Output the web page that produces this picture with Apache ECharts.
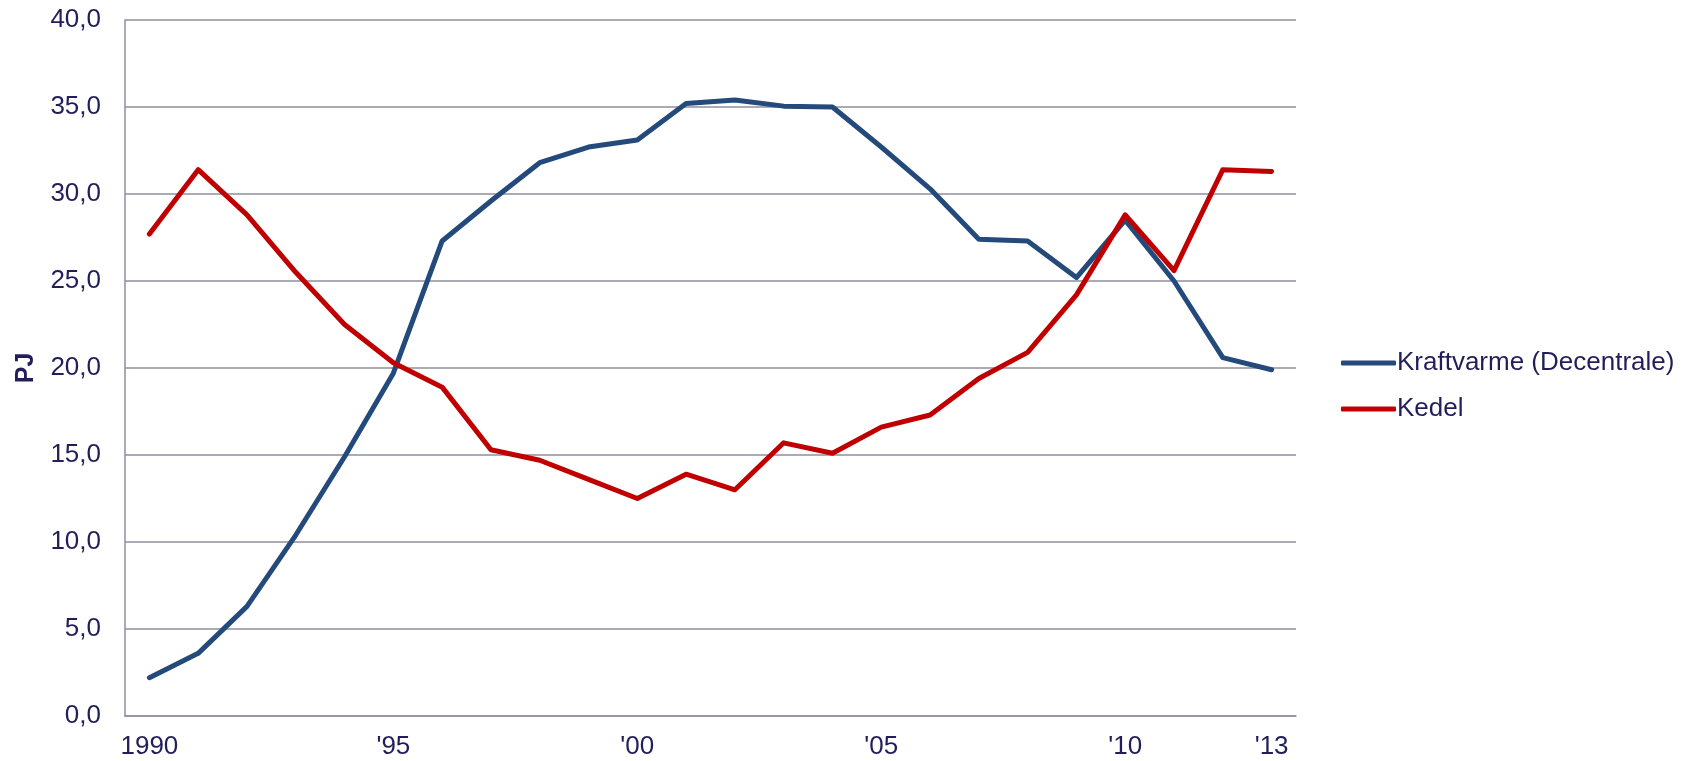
<!DOCTYPE html>
<html>
<head>
<meta charset="utf-8">
<script src="https://cdn.jsdelivr.net/npm/echarts@6/dist/echarts.min.js"></script>
<style>
html,body{margin:0;padding:0;background:#fff;}
#chart{width:1692px;height:761px;}
</style>
</head>
<body>
<div id="chart"></div>
<script>
const years = ['1990','1991','1992','1993','1994','1995','1996','1997','1998','1999','2000','2001','2002','2003','2004','2005','2006','2007','2008','2009','2010','2011','2012','2013'];
const xTickLabels = ['1990','','','','',"'95",'','','','',"'00",'','','','',"'05",'','','','',"'10",'','',"'13"];
const kraftvarme = [2.2, 3.6, 6.3, 10.4, 14.9, 19.7, 27.3, 29.6, 31.8, 32.7, 33.1, 35.2, 35.4, 35.05, 35.0, 32.7, 30.3, 27.4, 27.3, 25.2, 28.5, 25.0, 20.6, 19.9];
const kedel = [27.7, 31.4, 28.8, 25.5, 22.5, 20.3, 18.9, 15.3, 14.7, 13.6, 12.5, 13.9, 13.0, 15.7, 15.1, 16.6, 17.3, 19.4, 20.9, 24.2, 28.8, 25.6, 31.4, 31.3];
const seriesNames = ['Kraftvarme (Decentrale)', 'Kedel'];
const yAxisName = 'PJ';

const textColor = '#221e5a';
const gridColor = '#8f8fa0';
const font = '"Liberation Sans", Arial, sans-serif';

const chart = echarts.init(document.getElementById('chart'), null, {renderer:'canvas'});
chart.setOption({
  animation: false,
  backgroundColor: '#ffffff',
  textStyle: {fontFamily: font},
  grid: {left: 125, right: 396, top: 20, bottom: 45, containLabel: false},
  legend: {
    orient: 'vertical',
    left: 1336,
    top: 343,
    itemWidth: 55,
    itemHeight: 5,
    itemGap: 16,
    icon: 'roundRect',
    textStyle: {color: textColor, fontSize: 26, fontFamily: font, lineHeight: 30, padding: [0,0,0,-4]},
    data: seriesNames
  },
  xAxis: {
    type: 'category',
    data: years,
    boundaryGap: true,
    axisLine: {show: true, lineStyle: {color: gridColor, width: 1.5}},
    axisTick: {show: false},
    axisLabel: {
      interval: 0,
      color: textColor,
      fontSize: 26,
      fontFamily: font,
      margin: 18,
      formatter: (v, i) => xTickLabels[i]
    },
    splitLine: {show: false}
  },
  yAxis: {
    type: 'value',
    min: 0,
    max: 40,
    interval: 5,
    name: yAxisName,
    nameLocation: 'middle',
    nameRotate: 90,
    nameGap: 86,
    nameTextStyle: {color: textColor, fontSize: 25, fontWeight: 'bold', fontFamily: font},
    axisLine: {show: true, lineStyle: {color: gridColor, width: 1.5}},
    axisTick: {show: false},
    axisLabel: {
      color: textColor,
      fontSize: 26,
      fontFamily: font,
      margin: 24,
      formatter: v => v.toFixed(1).replace('.', ',')
    },
    splitLine: {show: true, lineStyle: {color: gridColor, width: 1.5}}
  },
  series: [
    {
      name: seriesNames[0],
      type: 'line',
      data: kraftvarme,
      symbol: 'none',
      smooth: false,
      itemStyle: {color: '#234a7b'},
      lineStyle: {color: '#234a7b', width: 5, cap: 'round', join: 'round'}
    },
    {
      name: seriesNames[1],
      type: 'line',
      data: kedel,
      symbol: 'none',
      smooth: false,
      itemStyle: {color: '#c00000'},
      lineStyle: {color: '#c00000', width: 5, cap: 'round', join: 'round'}
    }
  ]
});
</script>
</body>
</html>
